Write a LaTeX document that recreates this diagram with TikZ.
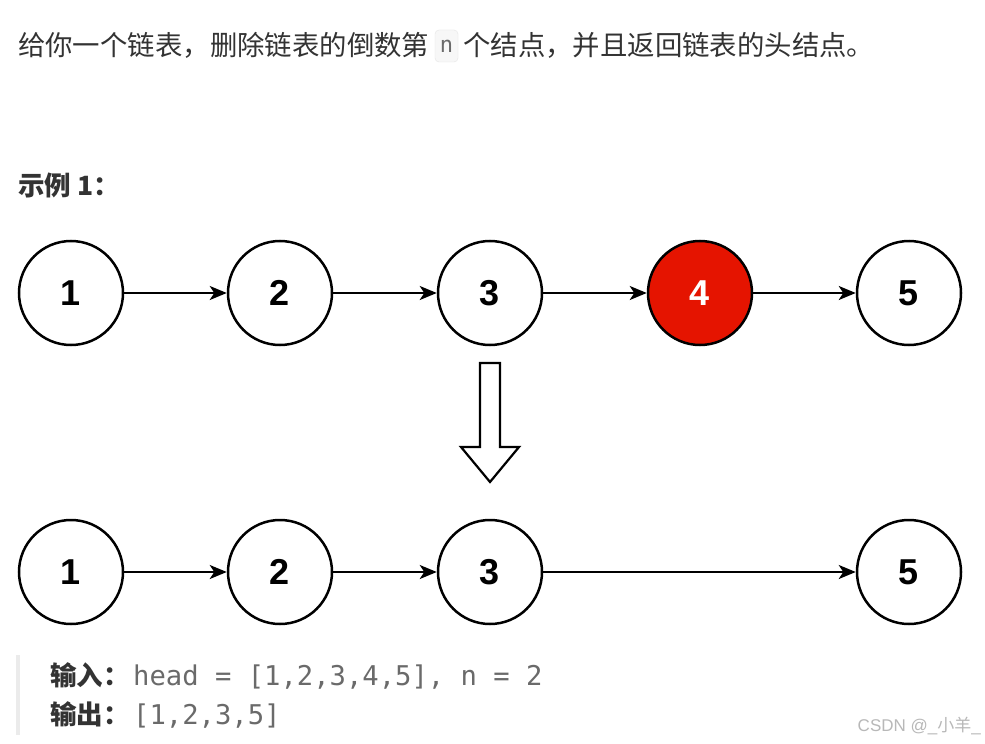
\documentclass[tikz,border=0pt]{standalone}
\usepackage{fontspec}
\setmainfont{Liberation Sans}
\newfontfamily\cjk{Noto Sans CJK SC}
\newfontfamily\monof{DejaVu Sans Mono}
\newfontfamily\numf{Liberation Sans}
\usetikzlibrary{arrows.meta}
\definecolor{txt}{HTML}{333333}
\definecolor{codegray}{HTML}{6A6A6A}
\definecolor{nodered}{HTML}{E51400}
\begin{document}
\begin{tikzpicture}[x=1bp,y=-1bp,
  lnode/.style={circle,draw=black,line width=2.5bp,minimum size=104bp,inner sep=0pt,
    font=\numf\bfseries\fontsize{36bp}{36bp}\selectfont},
  rednode/.style={lnode,fill=nodered,text=white},
  link/.style={line width=2bp,-{Stealth[length=17bp,width=14bp,inset=4.5bp]}},
  body/.style={inner sep=0pt,anchor=base west,text=txt,font=\cjk\fontsize{27.4bp}{30bp}\selectfont},
  bodybold/.style={body,font=\cjk\bfseries\fontsize{26.5bp}{30bp}\selectfont},
  code/.style={inner sep=0pt,anchor=base west,text=codegray,font=\monof\fontsize{27.2bp}{30bp}\selectfont},
  blockarrow/.style={draw=black,line width=2.2bp,fill=white,line join=miter}
]
\useasboundingbox[fill=white] (0,0) rectangle (985,744);

% title line
\node[body] (t1) at (18,56) {给你一个链表，删除链表的倒数第};
\node[draw=black!10,fill=black!3,rounded corners=4bp,minimum width=23bp,minimum height=32bp,inner sep=0pt,
  text=codegray,font=\monof\fontsize{22bp}{26bp}\selectfont] (nb) at (446.5,46) {n};
\node[body] (t2) at (463,56) {个结点，并且返回链表的头结点。};

% example heading
\node[bodybold] (ex) at (18,195) {示例 1：};

% top list
\node[lnode] (a1) at (71,293) {1};
\node[lnode] (a2) at (280,293) {2};
\node[lnode] (a3) at (490,293) {3};
\node[rednode] (a4) at (700,293) {4};
\node[lnode] (a5) at (909,293) {5};
\draw[link] (a1) -- (a2);
\draw[link] (a2) -- (a3);
\draw[link] (a3) -- (a4);
\draw[link] (a4) -- (a5);

% block arrow
\draw[blockarrow] (480,363) -- (500,363) -- (500,447) -- (519,447) -- (490,482) -- (461,447) -- (480,447) -- cycle;

% bottom list
\node[lnode] (b1) at (71,572) {1};
\node[lnode] (b2) at (280,572) {2};
\node[lnode] (b3) at (490,572) {3};
\node[lnode] (b5) at (909,572) {5};
\draw[link] (b1) -- (b2);
\draw[link] (b2) -- (b3);
\draw[link] (b3) -- (b5);

% quote block
\fill[black!8] (16,655) rectangle (19.5,735);
\node[bodybold] (in) at (50,685) {输入：};
\node[code] (inv) at (133,685) {head = [1,2,3,4,5], n = 2};
\node[bodybold] (out) at (50,724) {输出：};
\node[code] (outv) at (133,724) {[1,2,3,5]};

% watermark
\node[inner sep=0pt,anchor=base east,text=black!28,font=\fontsize{17bp}{20bp}\selectfont] (wm) at (981,731) {CSDN @\_{\cjk 小羊}\_};
\end{tikzpicture}
\end{document}
